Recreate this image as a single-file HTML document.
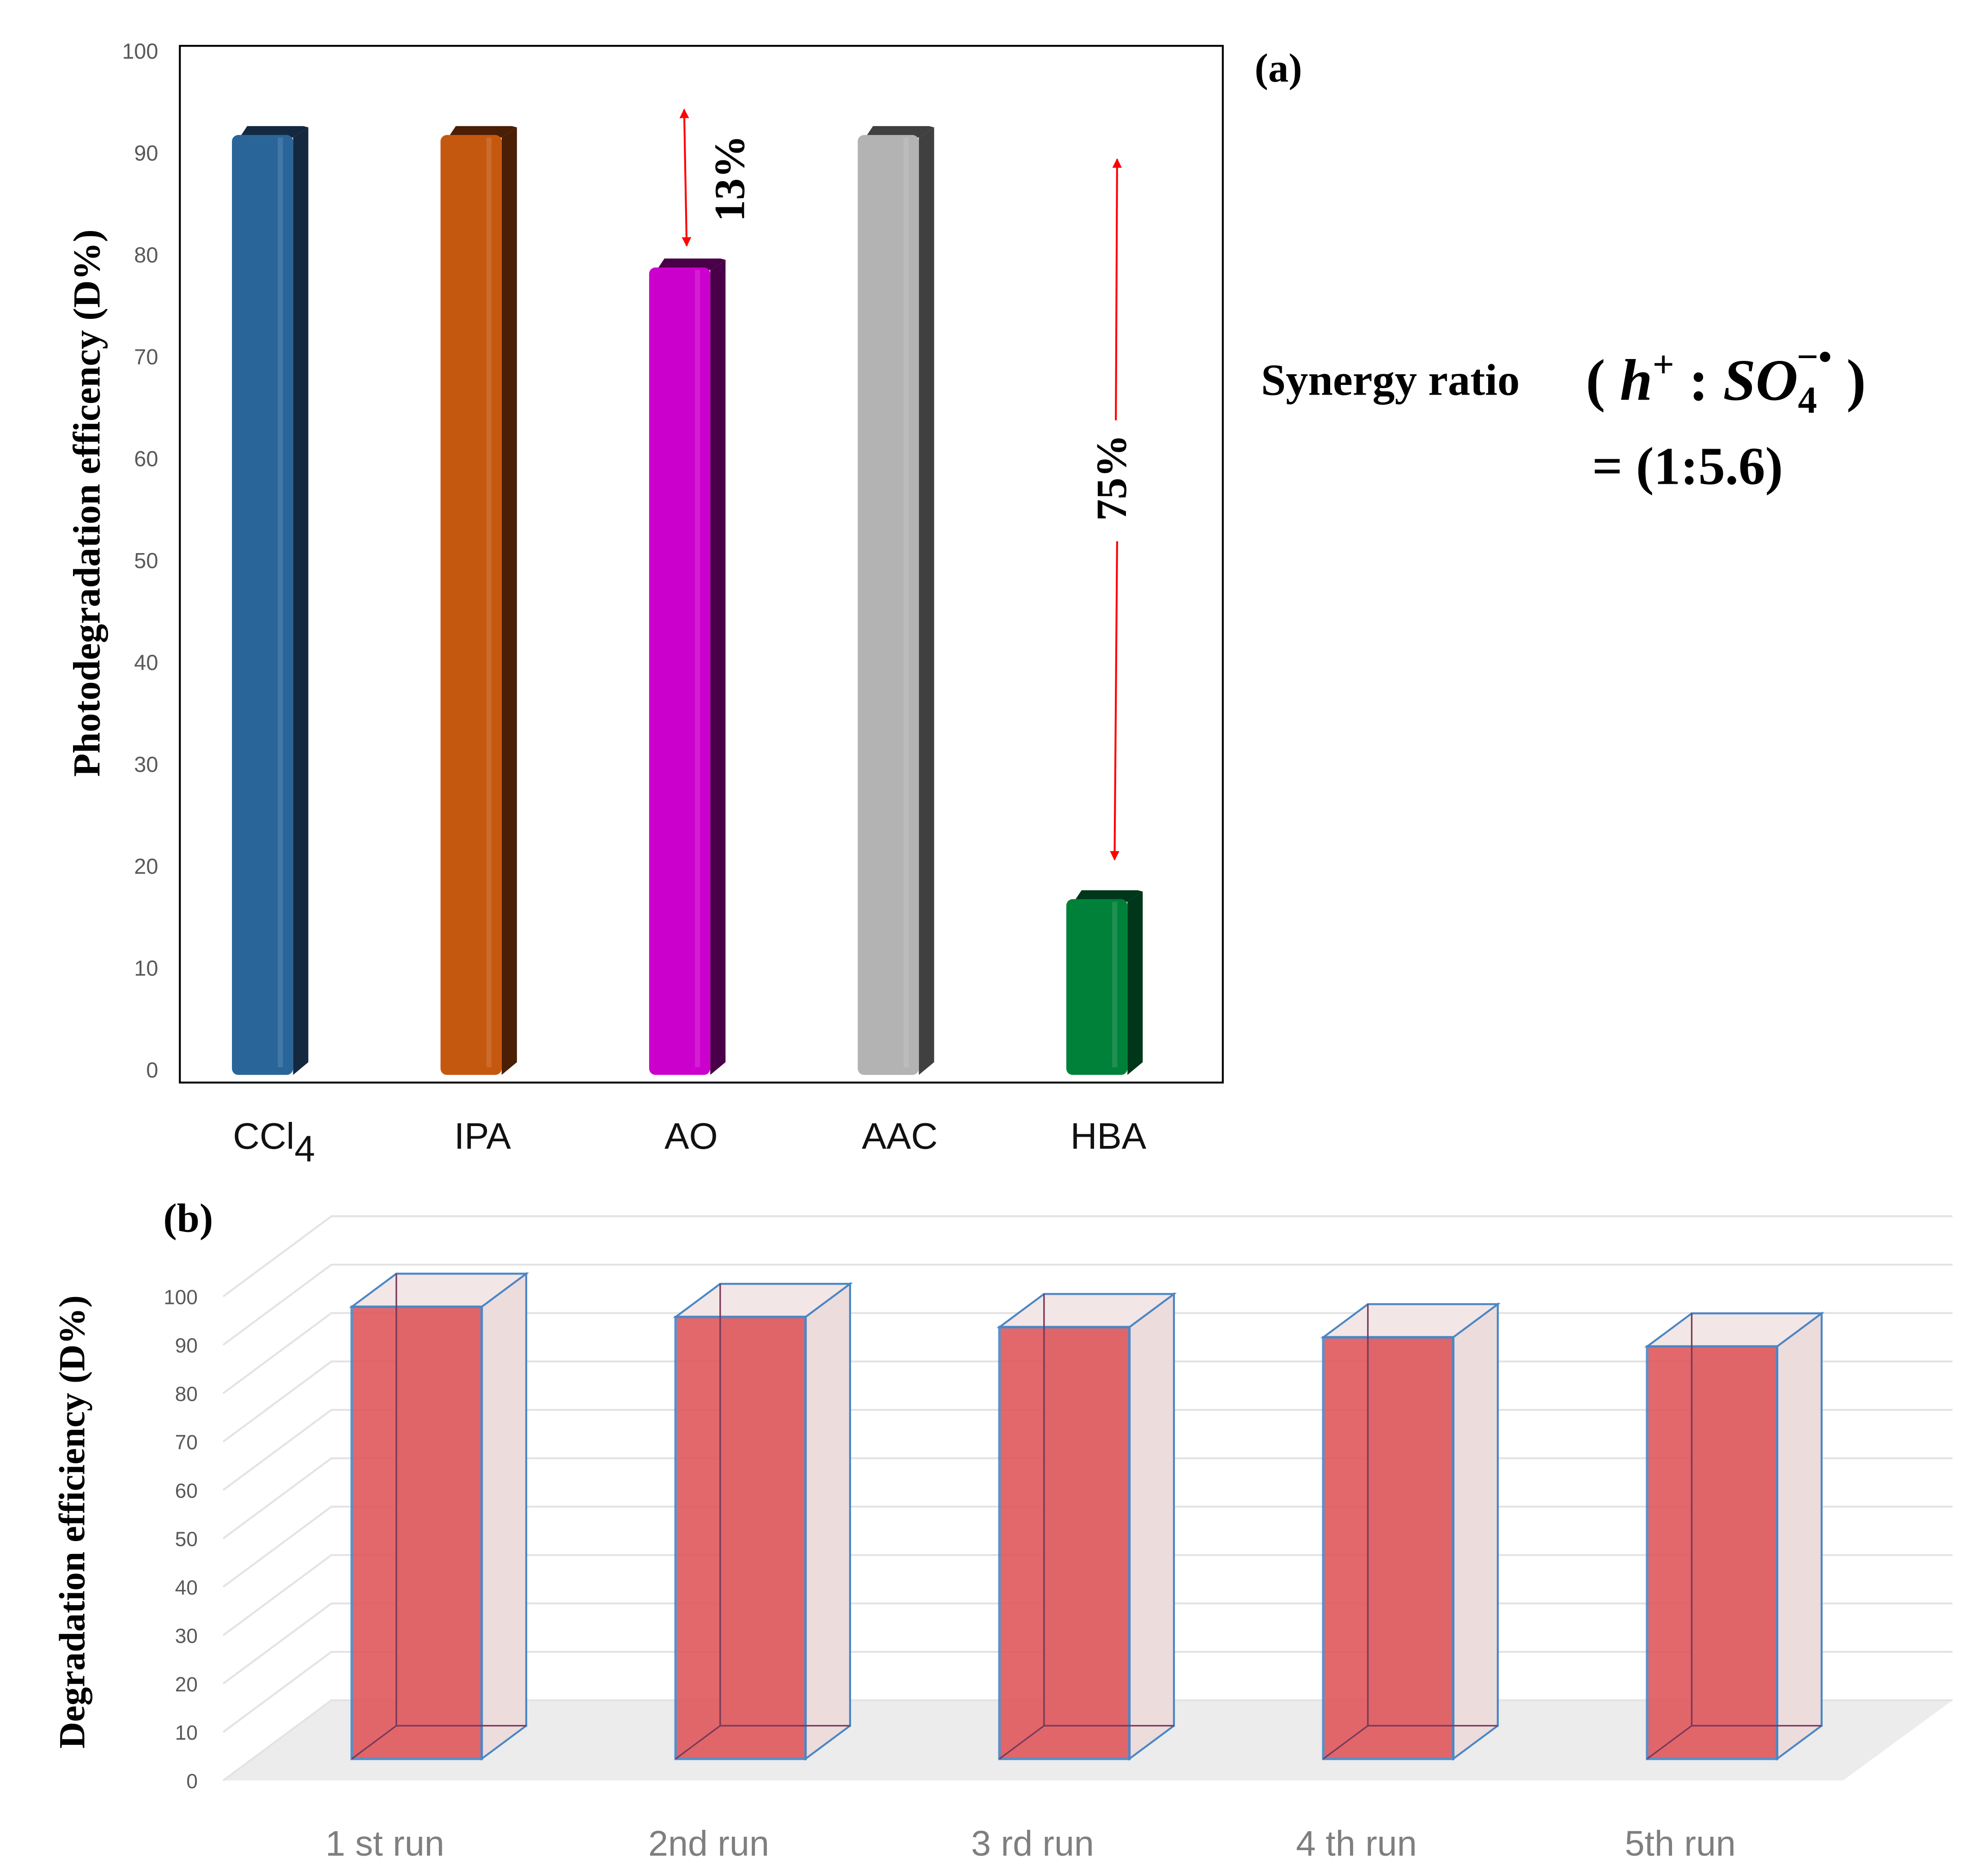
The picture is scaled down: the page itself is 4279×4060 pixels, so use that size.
<!DOCTYPE html>
<html><head><meta charset="utf-8">
<style>
html,body{margin:0;padding:0;background:#fff;}
svg{display:block;}
.serif{font-family:"Liberation Serif",serif;font-weight:bold;}
.sans{font-family:"Liberation Sans",sans-serif;}
</style></head>
<body>
<svg id="fig" width="4279" height="4060" viewBox="0 0 1552 1473" xmlns="http://www.w3.org/2000/svg">
<defs>
<marker id="ah" viewBox="0 0 10 10" refX="9" refY="5" markerWidth="5" markerHeight="5" orient="auto-start-reverse"><path d="M0,0 L10,5 L0,10 z" fill="#ff0000"/></marker>
</defs>
<g id="panelA">
<rect x="141" y="36" width="819" height="814" fill="none" stroke="#000" stroke-width="1.5"/>
<text x="985" y="64" class="serif" font-size="32">(a)</text>
<text transform="translate(78,395) rotate(-90)" text-anchor="middle" class="serif" font-size="30">Photodegradation efficency (D%)</text>
<g id="ticksA"></g>
<g id="barsA"></g>
<g id="labelsA"></g>
<line x1="537" y1="86" x2="539" y2="193" stroke="#ff0000" stroke-width="1.5" marker-start="url(#ah)" marker-end="url(#ah)"/>
<text transform="translate(584,140) rotate(-90)" text-anchor="middle" class="serif" font-size="34">13%</text>
<line x1="877" y1="125" x2="876" y2="330" stroke="#ff0000" stroke-width="1.5" marker-start="url(#ah)"/>
<line x1="877" y1="425" x2="875" y2="675" stroke="#ff0000" stroke-width="1.5" marker-end="url(#ah)"/>
<text transform="translate(884,375) rotate(-90)" text-anchor="middle" class="serif" font-size="34">75%</text>
<text x="990" y="310" class="serif" font-size="35">Synergy ratio</text>
<text x="1245" y="314" class="serif" font-size="46">( <tspan font-style="italic">h</tspan><tspan font-size="30" dy="-18">+</tspan><tspan dy="18"> : </tspan><tspan font-style="italic">SO</tspan><tspan font-size="30" dy="10">4</tspan><tspan font-size="30" dx="-16" dy="-34">−•</tspan><tspan dy="24"> )</tspan></text>
<text x="1250" y="380" class="serif" font-size="42">= (1:5.6)</text>
</g>
<g id="panelB">
<polygon points="175,1398 1447,1398 1533,1335 260,1335" fill="#ececec"/>
<g id="gridB"></g>
<g id="ticksB"></g>
<g id="barsB"></g>
<g id="labelsB"></g>
<text x="128" y="967" class="serif" font-size="32">(b)</text>
<text transform="translate(66,1195) rotate(-90)" text-anchor="middle" class="serif" font-size="29">Degradation efficiency (D%)</text>
</g>
</svg>
<script>
const catsA = ["CCl4","IPA","AO","AAC","HBA"];
const valsA = [92, 92, 79, 92, 17];
const ticksA = [0,10,20,30,40,50,60,70,80,90,100];
const catsB = ["1 st run","2nd run","3 rd run","4 th run","5th run"];
const valsB = [93.4, 91.3, 89.2, 87.1, 85.2];
const ticksB = [0,10,20,30,40,50,60,70,80,90,100];

const NS="http://www.w3.org/2000/svg";
function mk(tag, attrs, parent){const e=document.createElementNS(NS,tag);for(const k in attrs)e.setAttribute(k,attrs[k]);parent.appendChild(e);return e;}

// Panel A
const yA = v => 840 - v*8;
const xA = i => 141 + 819/5*(i+0.5);
const frontCol=["#2a6599","#c5580f","#cc00cc","#b3b3b3","#00813a"];
const sideCol=["#14293f","#4a1f05","#4a0048","#404040","#00361a"];
const gT=document.getElementById('ticksA');
ticksA.forEach(t=>{
  const e=mk('text',{x:124,y:yA(t)+6,'text-anchor':'end','font-size':17,fill:'#595959',class:'sans'},gT);
  e.textContent=t;
  
  
});
const gB=document.getElementById('barsA');
catsA.forEach((c,i)=>{
  const cx=xA(i)-17, w=48, d=12, top=yA(valsA[i])-4, bot=yA(0)+4;
  const g=mk('g',{},gB);
  
  
  const l=cx-w/2, r=cx+w/2;
  mk('polygon',{points:`${r},${top+8} ${r+d},${top} ${r+d},${bot-10} ${r},${bot}`,fill:sideCol[i]},g);
  mk('polygon',{points:`${l+6},${top+8} ${l+d},${top-1} ${r+d-4},${top-1} ${r+d},${top} ${r},${top+8}`,fill:sideCol[i]},g);
  mk('rect',{x:l,y:top+6,width:w,height:bot-top-6,rx:5,fill:frontCol[i]},g);
  mk('rect',{x:r-12,y:top+8,width:4,height:bot-top-14,fill:'#fff',opacity:0.12},g);
});
const gL=document.getElementById('labelsA');
catsA.forEach((c,i)=>{
  const e=mk('text',{x:xA(i)-8,y:902,'text-anchor':'middle','font-size':29,fill:'#111',class:'sans'},gL);
  if(c==="CCl4"){e.innerHTML='CCl<tspan font-size="29" dy="10">4</tspan>';} else e.textContent=c;
  
  
});

// Panel B
const yBf = v => 1398 - v*3.8;
const gG=document.getElementById('gridB');
ticksB.forEach(t=>{
  const yf=yBf(t), yb=yf-63;
  const p=mk('polyline',{points:`175,${yf} 260,${yb} 1533,${yb}`,fill:'none',stroke:'#e3e3e3','stroke-width':1.5},gG);
  
  
});
const gTB=document.getElementById('ticksB');
ticksB.forEach(t=>{
  const e=mk('text',{x:155,y:yBf(t)+6,'text-anchor':'end','font-size':16,fill:'#595959',class:'sans'},gTB);
  e.textContent=t;
  
  
});
const xB = i => 276 + 254.3*i;
const yBar = v => 1381 - v*3.8;
const gBB=document.getElementById('barsB');
catsB.forEach((c,i)=>{
  const l=xB(i), w=102, dx=35, dy=26, bot=yBar(0), top=yBar(valsB[i]);
  const g=mk('g',{},gBB);
  
  
  const tb=top-dy, r=l+w;
  mk('rect',{x:l+dx,y:tb,width:w,height:bot-top,fill:'#eadede',stroke:'#4a86c5','stroke-width':1.5},g);
  mk('polygon',{points:`${r},${top} ${r+dx},${tb} ${r+dx},${bot-dy} ${r},${bot}`,fill:'#ecdcdc',stroke:'#4a86c5','stroke-width':1.5},g);
  mk('polygon',{points:`${l},${top} ${l+dx},${tb} ${r+dx},${tb} ${r},${top}`,fill:'#f3e6e6',stroke:'#4a86c5','stroke-width':1.5},g);
  mk('rect',{x:l,y:top,width:w,height:bot-top,fill:'#e0585c',opacity:0.9,stroke:'#4a86c5','stroke-width':2},g);
  mk('polyline',{points:`${l},${bot} ${l+dx},${bot-dy} ${r+dx},${bot-dy}`,fill:'none',stroke:'#7a3a5a','stroke-width':1.2},g);
  mk('line',{x1:l+dx,y1:tb,x2:l+dx,y2:bot-dy,stroke:'#7a3a5a','stroke-width':1.2},g);
});
const gLB=document.getElementById('labelsB');
catsB.forEach((c,i)=>{
  const e=mk('text',{x:xB(i)+26,y:1457,'text-anchor':'middle','font-size':28,fill:'#7f7f7f',class:'sans'},gLB);
  e.textContent=c;
  
  
});
</script>
</body></html>
